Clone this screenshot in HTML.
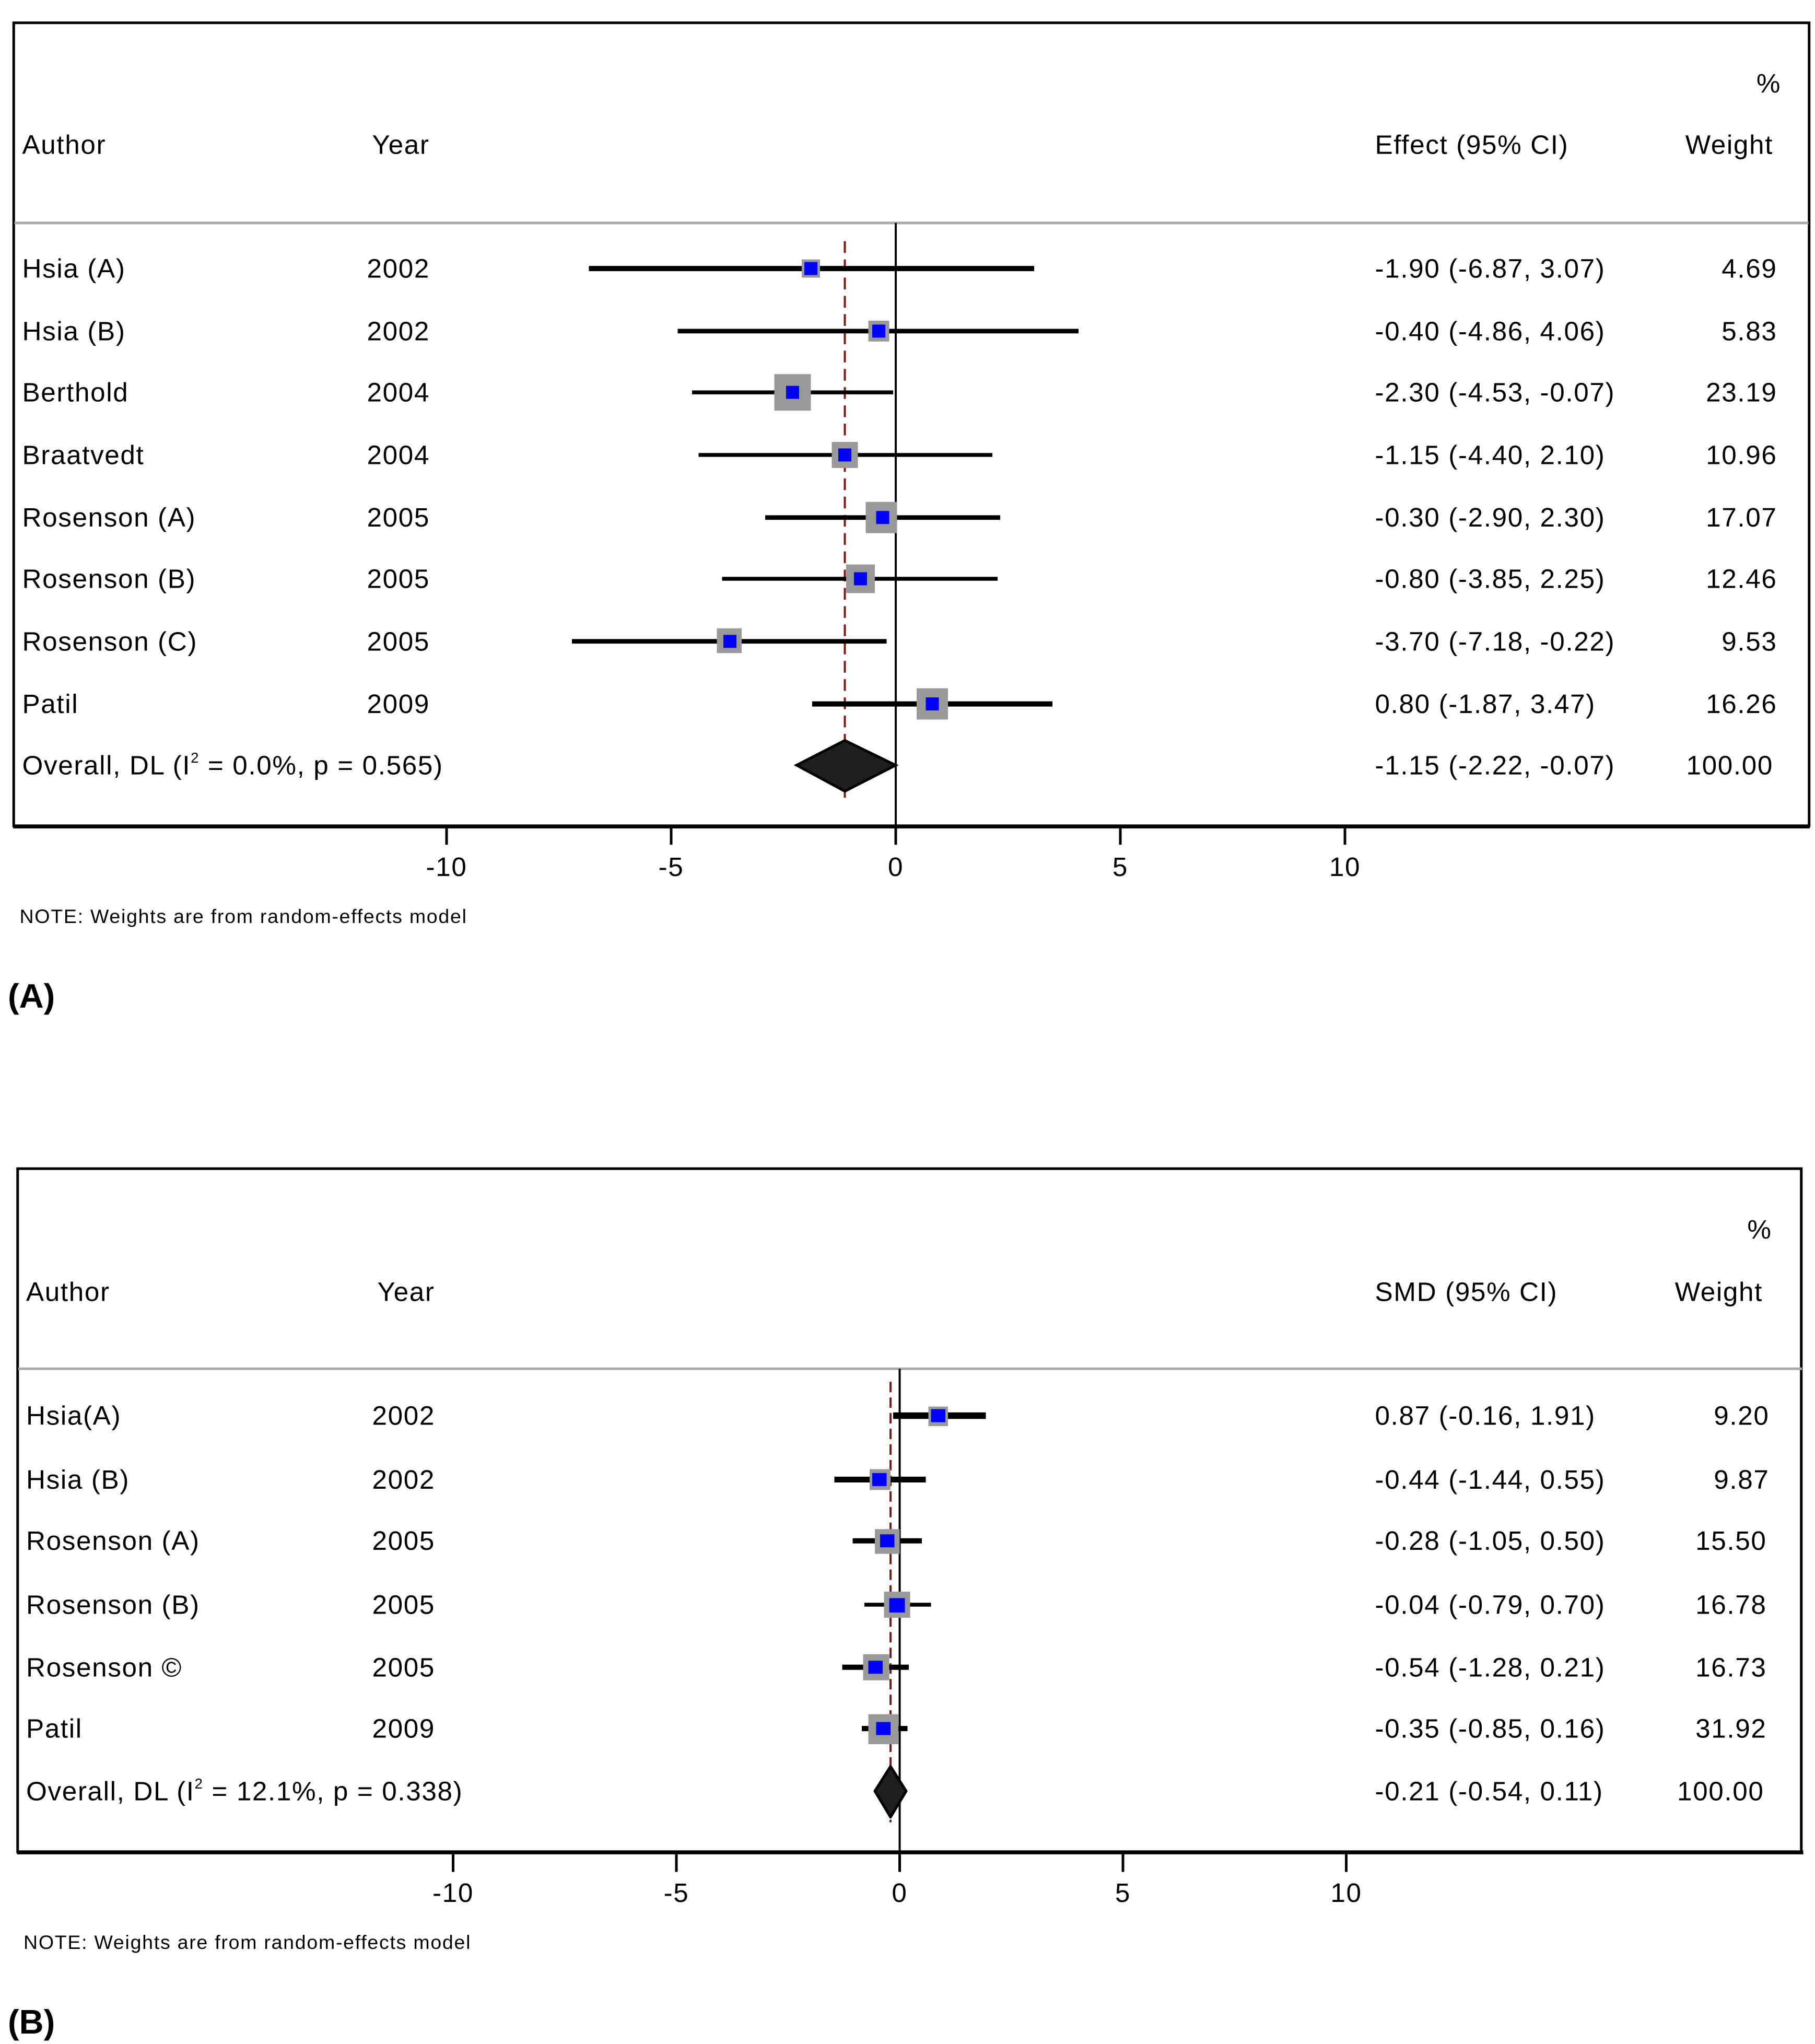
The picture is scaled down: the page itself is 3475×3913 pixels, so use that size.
<!DOCTYPE html>
<html><head><meta charset="utf-8"><style>html,body{margin:0;padding:0;background:#fff}svg{display:block}</style></head>
<body>
<svg width="3475" height="3913" viewBox="0 0 1390 1568" preserveAspectRatio="none" xmlns="http://www.w3.org/2000/svg" font-family="Liberation Sans, sans-serif" font-size="20.5" letter-spacing="0.65" fill="#000">
<!-- Panel A -->
<rect x="10.5" y="17.5" width="1375" height="616" fill="none" stroke="#000" stroke-width="2"/>
<line x1="10" y1="634" x2="1386" y2="634" stroke="#000" stroke-width="3"/>
<line x1="11" y1="171" x2="1385" y2="171" stroke="#aaa" stroke-width="2"/>
<line x1="686" y1="171" x2="686" y2="634" stroke="#000" stroke-width="1.6"/>
<line x1="647" y1="185" x2="647" y2="612" stroke="#7a1a1a" stroke-width="1.6" stroke-dasharray="9,5"/>
<g stroke="#000" stroke-width="2">
<line x1="342" y1="634" x2="342" y2="648"/><line x1="514" y1="634" x2="514" y2="648"/><line x1="686" y1="634" x2="686" y2="648"/><line x1="858" y1="634" x2="858" y2="648"/><line x1="1030" y1="634" x2="1030" y2="648"/>
</g>
<g text-anchor="middle"><text x="342" y="672">-10</text><text x="514" y="672">-5</text><text x="686" y="672">0</text><text x="858" y="672">5</text><text x="1030" y="672">10</text></g>
<text x="17" y="118">Author</text><text x="285" y="118">Year</text><text x="1053" y="118">Effect (95% CI)</text>
<text x="1358" y="118" text-anchor="end">Weight</text><text x="1364" y="71" text-anchor="end">%</text>
<text x="15" y="708" font-size="15" letter-spacing="0.7">NOTE: Weights are from random-effects model</text>
<text x="6" y="773" font-size="26" font-weight="bold" letter-spacing="0">(A)</text>

<!-- Panel B -->
<rect x="13.5" y="896.5" width="1366" height="524" fill="none" stroke="#000" stroke-width="2"/>
<line x1="13" y1="1421" x2="1381" y2="1421" stroke="#000" stroke-width="3"/>
<line x1="14" y1="1050" x2="1380" y2="1050" stroke="#aaa" stroke-width="2"/>
<line x1="689" y1="1050" x2="689" y2="1421" stroke="#000" stroke-width="1.6"/>
<line x1="682" y1="1060" x2="682" y2="1398" stroke="#7a1a1a" stroke-width="1.6" stroke-dasharray="8,4"/>
<g stroke="#000" stroke-width="2">
<line x1="347" y1="1421" x2="347" y2="1436"/><line x1="518" y1="1421" x2="518" y2="1436"/><line x1="689" y1="1421" x2="689" y2="1436"/><line x1="860" y1="1421" x2="860" y2="1436"/><line x1="1031" y1="1421" x2="1031" y2="1436"/>
</g>
<g text-anchor="middle"><text x="347" y="1459">-10</text><text x="518" y="1459">-5</text><text x="689" y="1459">0</text><text x="860" y="1459">5</text><text x="1031" y="1459">10</text></g>
<text x="20" y="998">Author</text><text x="289" y="998">Year</text><text x="1053" y="998">SMD (95% CI)</text>
<text x="1350" y="998" text-anchor="end">Weight</text><text x="1357" y="950" text-anchor="end">%</text>
<text x="18" y="1495" font-size="15" letter-spacing="0.7">NOTE: Weights are from random-effects model</text>
<text x="6" y="1560" font-size="26" font-weight="bold" letter-spacing="0">(B)</text>

<!-- Rows A -->
<g>
<line x1="451" y1="206" x2="792" y2="206" stroke="#000" stroke-width="4"/><rect x="614" y="199" width="14" height="14" fill="#999"/><rect x="616" y="201" width="10" height="10" fill="#00f"/>
<line x1="519" y1="254" x2="826" y2="254" stroke="#000" stroke-width="3.5"/><rect x="665" y="246" width="16" height="16" fill="#999"/><rect x="668" y="249" width="10" height="10" fill="#00f"/>
<line x1="530" y1="301" x2="684" y2="301" stroke="#000" stroke-width="3"/><rect x="593" y="287" width="28" height="28" fill="#999"/><rect x="602" y="296" width="10" height="10" fill="#00f"/>
<line x1="535" y1="349" x2="760" y2="349" stroke="#000" stroke-width="3"/><rect x="637" y="339" width="20" height="20" fill="#999"/><rect x="642" y="344" width="10" height="10" fill="#00f"/>
<line x1="586" y1="397" x2="766" y2="397" stroke="#000" stroke-width="3.5"/><rect x="663" y="385" width="24" height="24" fill="#999"/><rect x="671" y="392" width="10" height="10" fill="#00f"/>
<line x1="553" y1="444" x2="764" y2="444" stroke="#000" stroke-width="3"/><rect x="648" y="433" width="22" height="22" fill="#999"/><rect x="654" y="439" width="10" height="10" fill="#00f"/>
<line x1="438" y1="492" x2="679" y2="492" stroke="#000" stroke-width="3.5"/><rect x="549" y="482" width="19" height="19" fill="#999"/><rect x="554" y="487" width="10" height="10" fill="#00f"/>
<line x1="622" y1="540" x2="806" y2="540" stroke="#000" stroke-width="4"/><rect x="702" y="528" width="24" height="24" fill="#999"/><rect x="709" y="535" width="10" height="10" fill="#00f"/>
<polygon points="610,587 647,568 686,587 647,607" fill="#1e1e1e" stroke="#000" stroke-width="2"/>
</g>
<g>
<text x="17" y="213">Hsia (A)</text><text x="281" y="213">2002</text><text x="1053" y="213">-1.90 (-6.87, 3.07)</text><text x="1361" y="213" text-anchor="end">4.69</text>
<text x="17" y="261">Hsia (B)</text><text x="281" y="261">2002</text><text x="1053" y="261">-0.40 (-4.86, 4.06)</text><text x="1361" y="261" text-anchor="end">5.83</text>
<text x="17" y="308">Berthold</text><text x="281" y="308">2004</text><text x="1053" y="308">-2.30 (-4.53, -0.07)</text><text x="1361" y="308" text-anchor="end">23.19</text>
<text x="17" y="356">Braatvedt</text><text x="281" y="356">2004</text><text x="1053" y="356">-1.15 (-4.40, 2.10)</text><text x="1361" y="356" text-anchor="end">10.96</text>
<text x="17" y="404">Rosenson (A)</text><text x="281" y="404">2005</text><text x="1053" y="404">-0.30 (-2.90, 2.30)</text><text x="1361" y="404" text-anchor="end">17.07</text>
<text x="17" y="451">Rosenson (B)</text><text x="281" y="451">2005</text><text x="1053" y="451">-0.80 (-3.85, 2.25)</text><text x="1361" y="451" text-anchor="end">12.46</text>
<text x="17" y="499">Rosenson (C)</text><text x="281" y="499">2005</text><text x="1053" y="499">-3.70 (-7.18, -0.22)</text><text x="1361" y="499" text-anchor="end">9.53</text>
<text x="17" y="547">Patil</text><text x="281" y="547">2009</text><text x="1053" y="547">0.80 (-1.87, 3.47)</text><text x="1361" y="547" text-anchor="end">16.26</text>
<text x="17" y="594">Overall, DL (I<tspan font-size="11" dy="-9">2</tspan><tspan dy="9"> = 0.0%, p = 0.565)</tspan></text><text x="1053" y="594">-1.15 (-2.22, -0.07)</text><text x="1358" y="594" text-anchor="end">100.00</text>
</g>

<!-- Rows B -->
<g>
<line x1="684" y1="1086" x2="755" y2="1086" stroke="#000" stroke-width="5"/><rect x="711" y="1079" width="15" height="15" fill="#999"/><rect x="713" y="1081" width="11" height="10" fill="#00f"/>
<line x1="639" y1="1135" x2="709" y2="1135" stroke="#000" stroke-width="4.5"/><rect x="666" y="1127" width="16" height="16" fill="#999"/><rect x="668" y="1130" width="11" height="10" fill="#00f"/>
<line x1="653" y1="1182" x2="706" y2="1182" stroke="#000" stroke-width="4"/><rect x="670" y="1173" width="19" height="19" fill="#999"/><rect x="674" y="1177" width="11" height="10" fill="#00f"/>
<line x1="662" y1="1231" x2="713" y2="1231" stroke="#000" stroke-width="3"/><rect x="677" y="1221" width="20" height="20" fill="#999"/><rect x="681" y="1226" width="12" height="11" fill="#00f"/>
<line x1="645" y1="1279" x2="696" y2="1279" stroke="#000" stroke-width="4"/><rect x="661" y="1269" width="20" height="20" fill="#999"/><rect x="665" y="1274" width="11" height="10" fill="#00f"/>
<line x1="660" y1="1326" x2="695" y2="1326" stroke="#000" stroke-width="4"/><rect x="665" y="1315" width="23" height="23" fill="#999"/><rect x="671" y="1321" width="11" height="10" fill="#00f"/>
<polygon points="670,1374 682,1355 694,1374 682,1394" fill="#1e1e1e" stroke="#000" stroke-width="2" stroke-linejoin="round"/>
</g>
<g>
<text x="20" y="1093">Hsia(A)</text><text x="285" y="1093">2002</text><text x="1053" y="1093">0.87 (-0.16, 1.91)</text><text x="1355" y="1093" text-anchor="end">9.20</text>
<text x="20" y="1142">Hsia (B)</text><text x="285" y="1142">2002</text><text x="1053" y="1142">-0.44 (-1.44, 0.55)</text><text x="1355" y="1142" text-anchor="end">9.87</text>
<text x="20" y="1189">Rosenson (A)</text><text x="285" y="1189">2005</text><text x="1053" y="1189">-0.28 (-1.05, 0.50)</text><text x="1353" y="1189" text-anchor="end">15.50</text>
<text x="20" y="1238">Rosenson (B)</text><text x="285" y="1238">2005</text><text x="1053" y="1238">-0.04 (-0.79, 0.70)</text><text x="1353" y="1238" text-anchor="end">16.78</text>
<text x="20" y="1286">Rosenson ©</text><text x="285" y="1286">2005</text><text x="1053" y="1286">-0.54 (-1.28, 0.21)</text><text x="1353" y="1286" text-anchor="end">16.73</text>
<text x="20" y="1333">Patil</text><text x="285" y="1333">2009</text><text x="1053" y="1333">-0.35 (-0.85, 0.16)</text><text x="1353" y="1333" text-anchor="end">31.92</text>
<text x="20" y="1381">Overall, DL (I<tspan font-size="11" dy="-9">2</tspan><tspan dy="9"> = 12.1%, p = 0.338)</tspan></text><text x="1053" y="1381">-0.21 (-0.54, 0.11)</text><text x="1351" y="1381" text-anchor="end">100.00</text>
</g>
</svg>
</body></html>
